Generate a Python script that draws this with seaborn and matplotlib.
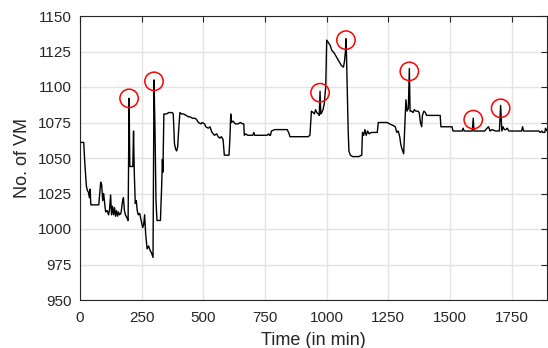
import numpy as np
import pandas as pd
import matplotlib
matplotlib.use("Agg")
import matplotlib.pyplot as plt
import seaborn as sns

# время (мин) и число VM
time_min = [0, 15, 20, 26, 30, 34, 38, 41, 44, 50, 60, 70, 76, 80, 84, 88, 92, 96, 100, 104,
            110, 116, 120, 124, 128, 132, 136, 140, 144, 148, 152, 156, 160, 166, 172, 176, 180, 184, 190, 195,
            199, 202, 210, 214, 217, 220, 224, 228, 232, 236, 242, 248, 254, 258, 262, 266, 272, 278, 284, 290,
            296, 300, 304, 308, 312, 320, 326, 331, 334, 336, 340, 350, 360, 374, 378, 383, 388, 392, 396, 400,
            405, 412, 420, 430, 440, 446, 456, 466, 473, 480, 490, 495, 505, 510, 520, 527, 535, 545, 554, 560,
            567, 573, 580, 585, 598, 604, 608, 611, 614, 620, 630, 640, 650, 660, 664, 666, 672, 680, 690, 700,
            705, 708, 720, 740, 758, 765, 768, 772, 776, 790, 840, 848, 851, 900, 925, 932, 938, 945, 950, 955,
            960, 966, 970, 973, 976, 980, 985, 990, 996, 1000, 1008, 1015, 1020, 1030, 1040, 1050, 1060, 1068, 1072, 1076,
            1078, 1080, 1083, 1087, 1090, 1096, 1105, 1115, 1130, 1142, 1145, 1150, 1155, 1160, 1166, 1172, 1180, 1195, 1205, 1209,
            1230, 1245, 1255, 1268, 1278, 1284, 1290, 1296, 1300, 1304, 1312, 1316, 1321, 1326, 1331, 1335, 1338, 1344, 1350, 1355,
            1362, 1370, 1375, 1380, 1385, 1388, 1394, 1400, 1405, 1412, 1430, 1450, 1460, 1463, 1480, 1500, 1508, 1512, 1530, 1549,
            1553, 1557, 1575, 1590, 1594, 1597, 1610, 1625, 1640, 1645, 1650, 1656, 1662, 1670, 1685, 1700, 1705, 1710, 1715, 1720,
            1726, 1732, 1738, 1760, 1780, 1790, 1794, 1798, 1830, 1860, 1866, 1872, 1876, 1884, 1887, 1893]
num_vm = [1061, 1061, 1045, 1030, 1027, 1026, 1022, 1028, 1017, 1017, 1017, 1017, 1017, 1025, 1033, 1031, 1020, 1025, 1018, 1012,
          1013, 1010, 1014, 1024, 1010, 1016, 1010, 1015, 1009, 1013, 1009, 1012, 1010, 1011, 1019, 1022, 1013, 1010, 1008, 1006,
          1092, 1044, 1044, 1044, 1069, 1040, 1018, 1020, 1013, 1010, 1011, 1006, 1001, 1003, 1010, 997, 986, 988, 985, 983,
          980, 1105, 1070, 1020, 1006, 1006, 1006, 1030, 1049, 1040, 1081, 1081, 1082, 1082, 1081, 1060, 1056, 1055, 1058, 1070,
          1082, 1081, 1081, 1080, 1079, 1079, 1078, 1078, 1077, 1075, 1074, 1075, 1074, 1072, 1071, 1072, 1068, 1066, 1067, 1065,
          1064, 1065, 1063, 1052, 1052, 1052, 1065, 1081, 1075, 1076, 1074, 1074, 1075, 1074, 1074, 1066, 1067, 1066, 1066, 1066,
          1068, 1066, 1066, 1066, 1066, 1067, 1066, 1066, 1069, 1070, 1070, 1067, 1065, 1065, 1065, 1066, 1083, 1082, 1081, 1084,
          1082, 1081, 1080, 1097, 1081, 1082, 1084, 1088, 1100, 1133, 1131, 1129, 1126, 1124, 1121, 1118, 1115, 1114, 1118, 1125,
          1134, 1124, 1100, 1070, 1055, 1052, 1051, 1051, 1051, 1052, 1068, 1066, 1070, 1066, 1069, 1067, 1068, 1068, 1068, 1075,
          1075, 1075, 1074, 1073, 1072, 1068, 1069, 1065, 1060, 1057, 1053, 1070, 1091, 1083, 1085, 1113, 1083, 1083, 1082, 1084,
          1083, 1083, 1082, 1075, 1072, 1080, 1083, 1082, 1080, 1080, 1080, 1080, 1080, 1072, 1072, 1072, 1072, 1069, 1069, 1069,
          1071, 1069, 1069, 1069, 1078, 1069, 1069, 1069, 1069, 1070, 1071, 1072, 1069, 1070, 1069, 1069, 1087, 1069, 1072, 1070,
          1070, 1071, 1069, 1069, 1069, 1069, 1072, 1069, 1069, 1069, 1068, 1069, 1068, 1068, 1071, 1069]

# аномалии (красные круги)
anom_time = [199, 300, 973, 1078, 1335, 1594, 1705]
anom_vm = [1092, 1104, 1096, 1133, 1111, 1077, 1085]

xticks = [0, 250, 500, 750, 1000, 1250, 1500, 1750]
yticks = [950, 975, 1000, 1025, 1050, 1075, 1100, 1125, 1150]

df = pd.DataFrame({"t": time_min, "vm": num_vm})
df_anom = pd.DataFrame({"t": anom_time, "vm": anom_vm})

sns.set_style("whitegrid")
plt.rcParams["font.family"] = ["Liberation Sans", "DejaVu Sans"]

fig = plt.figure(figsize=(5.48, 3.48), dpi=100)
ax = fig.add_axes([80 / 548, 48 / 348, 467 / 548, 284 / 348])

sns.lineplot(data=df, x="t", y="vm", color="black", linewidth=1.0,
             sort=False, estimator=None, ax=ax)
sns.scatterplot(data=df_anom, x="t", y="vm", marker="o", s=175,
                facecolors="none", edgecolor="red", linewidth=1.1, ax=ax, zorder=5)

ax.set_xlim(0, 1893)
ax.set_ylim(950, 1150)
ax.set_xticks(xticks)
ax.set_yticks(yticks)
ax.grid(True, color="#e3e3e3", linewidth=1.0)
for s in ax.spines.values():
    s.set_visible(True)
    s.set_color("#262626")
    s.set_linewidth(0.8)
ax.tick_params(direction="in", length=4, width=0.8, colors="#262626",
               top=True, right=True, labelsize=11, labelcolor="#262626")
ax.tick_params(axis="y", pad=6)
ax.tick_params(axis="x", pad=8)
ax.set_xlabel("Time (in min)", fontsize=13, color="#262626", labelpad=5)
ax.set_ylabel("No. of VM", fontsize=13, color="#262626", labelpad=5)

fig.savefig("out.png", dpi=100)
